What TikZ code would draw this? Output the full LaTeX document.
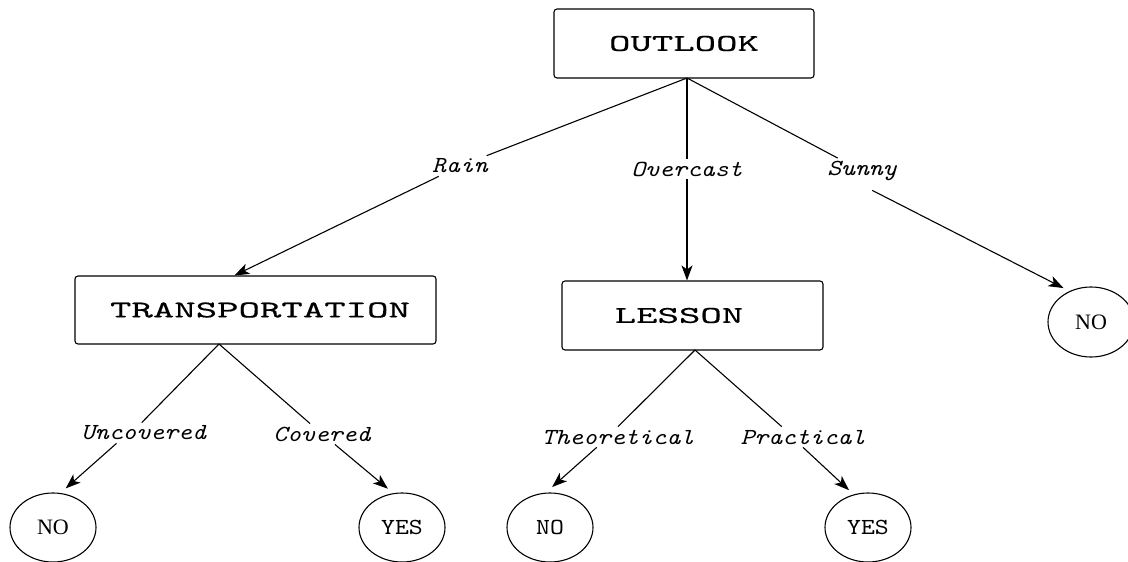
\documentclass[tikz,border=0pt]{standalone}
\usepackage{fontspec}
\setmainfont{Liberation Serif}
\newfontfamily\boxfont[FakeStretch=1.7,FakeBold=0.6]{lmmono10-regular.otf}
\newfontfamily\monofont[FakeStretch=1.15]{lmmono10-regular.otf}
\newfontfamily\monoit[FakeStretch=1.15]{lmmono10-italic.otf}
\usetikzlibrary{arrows.meta,shapes.geometric}
\begin{document}
\begin{tikzpicture}[x=1pt,y=-1pt,
  box/.style={draw,rounded corners=3pt,line width=1.1pt,inner sep=0pt,
    font=\boxfont\fontsize{24}{24}\selectfont},
  leaf/.style={draw,ellipse,line width=1.1pt,inner sep=0pt,outer sep=6pt,
    minimum width=86pt,minimum height=69pt},
  leafmono/.style={leaf,font=\monofont\fontsize{23}{23}\selectfont},
  leafserif/.style={leaf,font=\fontsize{22}{22}\selectfont},
  lbl/.style={font=\monoit\fontsize{23}{23}\selectfont,
    inner xsep=2pt,inner ysep=3pt},
  conn/.style={line width=1.1pt},
  arr/.style={conn,-{Stealth[length=15pt,width=11pt,inset=4pt]}},
]
\useasboundingbox (0,0) rectangle (1128,562);

% boxes
\node[box,minimum width=260pt,minimum height=69pt] (outlook) at (684,43.5) {OUTLOOK};
\node[box,minimum width=361pt,minimum height=68pt] (trans) at (255.5,310) {\hspace*{9pt}TRANSPORTATION};
\node[box,minimum width=261pt,minimum height=69pt] (lesson) at (692.5,315.5) {LESSON\hspace*{27pt}};

% apex coordinates
\coordinate (oap) at (687,78);
\coordinate (tap) at (219,344);
\coordinate (lap) at (695,350);

% labels
\node[lbl] (rain) at (460,166) {Rain};
\node[lbl] (overcast) at (687,169) {Overcast};
\node[lbl] (sunny) at (862,171) {Sunny};
\node[lbl] (uncov) at (143.5,433) {Uncovered};
\node[lbl] (cov) at (322,434) {Covered};
\node[lbl] (theo) at (618,437) {Theoretical};
\node[lbl] (prac) at (803,437) {Practical};

% leaves
\node[leafserif,minimum height=70pt] (noR) at (1091,322) {NO};
\node[leafserif] (noA) at (53,527.5) {NO};
\node[leafmono] (yesA) at (402,527.5) {YES};
\node[leafmono] (noB) at (550,527.5) {NO};
\node[leafmono] (yesB) at (868,527.5) {YES};

% connectors
\draw[conn] (oap) -- (rain);
\draw[arr] (rain.206) -- ([xshift=160pt]trans.north west);
\draw[conn] (oap) -- (overcast);
\draw[arr] (overcast.south) -- (overcast.south |- lesson.north);
\draw[conn] (oap) -- (sunny);
\draw[arr,shorten <=14pt] (sunny.-100) -- (noR.129.5);

\draw[conn] (tap) -- (uncov.100);
\draw[arr] (uncov.201) -- (noA.72);
\draw[conn] (tap) -- (cov);
\draw[arr] (cov.-39) -- (yesA.110);

\draw[conn] (lap) -- (theo.north);
\draw[arr] (theo.206) -- (noB.87);
\draw[conn] (lap) -- (prac.154);
\draw[arr] (prac.south) -- (yesB.117.5);
\end{tikzpicture}
\end{document}
